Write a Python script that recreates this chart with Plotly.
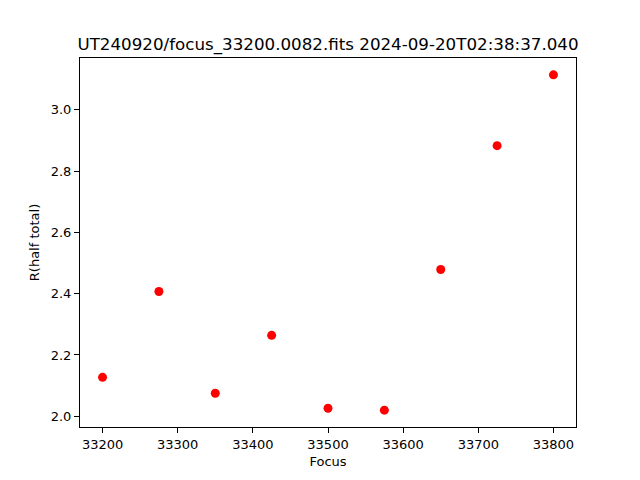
import plotly.graph_objects as go

focus = [33200, 33275, 33350, 33425, 33500, 33575, 33650, 33725, 33800]
r_half = [2.127, 2.407, 2.075, 2.264, 2.026, 2.020, 2.479, 2.883, 3.114]
x_ticks = [33200, 33300, 33400, 33500, 33600, 33700, 33800]
y_ticks = [2.0, 2.2, 2.4, 2.6, 2.8, 3.0]
title = "UT240920/focus_33200.0082.fits 2024-09-20T02:38:37.040"

fig = go.Figure(go.Scatter(x=focus, y=r_half, mode="markers",
                           marker=dict(color="red", size=9)))

ax = dict(showgrid=False, zeroline=False, showline=True, linecolor="black",
          linewidth=1, mirror=True, ticks="outside", ticklen=5, tickwidth=1,
          tickcolor="black", tickfont=dict(size=13, color="black"),
          automargin=False)

fig.update_layout(
    width=640, height=480,
    margin=dict(l=72, r=72, t=50, b=61),
    paper_bgcolor="white", plot_bgcolor="white",
    font=dict(family="DejaVu Sans", color="black"),
    showlegend=False,
    title=dict(text=title, x=0.5, xref="paper", xanchor="center",
               y=1 - 36 / 480, yanchor="middle", font=dict(size=16.7)),
    xaxis=dict(ax, range=[33170, 33830], tickvals=x_ticks,
               ticktext=[str(v) for v in x_ticks],
               title=dict(text="Focus", font=dict(size=13), standoff=6)),
    yaxis=dict(ax, range=[1.965, 3.169], tickvals=y_ticks,
               ticktext=[f"{v:.1f}" for v in y_ticks],
               title=dict(text="R(half total)", font=dict(size=13), standoff=8)),
)

fig.write_html("out.html")
